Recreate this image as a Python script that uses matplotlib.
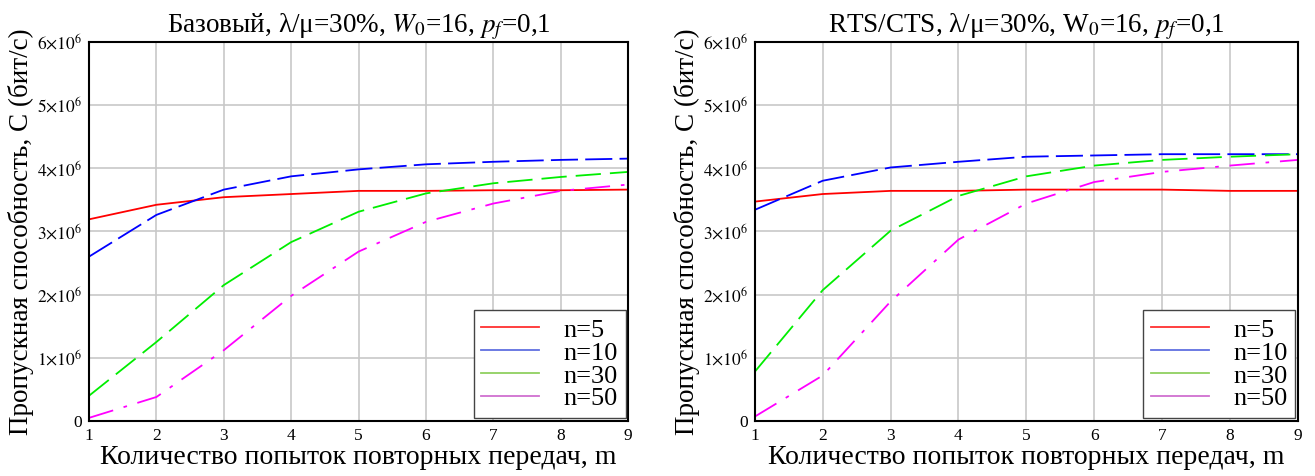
import numpy as np
import matplotlib.pyplot as plt
from matplotlib.lines import Line2D
from matplotlib.ticker import FuncFormatter

plt.rcParams['font.family'] = ['Liberation Serif', 'DejaVu Serif']
plt.rcParams['mathtext.fontset'] = 'stix'

m = [1, 2, 3, 4, 5, 6, 7, 8, 9]

# Базовый (значения в 1e6 бит/с)
base_n5 = [3.19, 3.42, 3.54, 3.59, 3.64, 3.64, 3.65, 3.65, 3.66]
base_n10 = [2.60, 3.26, 3.66, 3.87, 3.98, 4.06, 4.10, 4.13, 4.15]
base_n30 = [0.40, 1.25, 2.15, 2.83, 3.31, 3.60, 3.76, 3.86, 3.94]
base_n50 = [0.05, 0.38, 1.12, 1.98, 2.68, 3.15, 3.44, 3.64, 3.74]

# RTS/CTS
rts_n5 = [3.47, 3.59, 3.64, 3.64, 3.66, 3.66, 3.66, 3.64, 3.64]
rts_n10 = [3.34, 3.80, 4.01, 4.10, 4.18, 4.20, 4.22, 4.22, 4.22]
rts_n30 = [0.78, 2.07, 3.01, 3.56, 3.87, 4.04, 4.13, 4.18, 4.22]
rts_n50 = [0.07, 0.72, 1.89, 2.87, 3.44, 3.78, 3.94, 4.04, 4.13]

labels = ['n=5', 'n=10', 'n=30', 'n=50']
colors = ['#ff0000', '#0000ff', '#00ee00', '#ff00ff']
styles = ['-', (0, (15, 4)), (0, (14, 5)), (0, (14, 6, 2, 6))]
legend_colors = ['#ff3030', '#6070e0', '#90d060', '#d070d0']

titles = [r'Базовый, λ/μ=30%, $\mathit{W}_0$=16, $\mathit{p}_f$=0,1',
          r'RTS/CTS, λ/μ=30%, W$_0$=16, $\mathit{p}_f$=0,1']
data = [[base_n5, base_n10, base_n30, base_n50],
        [rts_n5, rts_n10, rts_n30, rts_n50]]


def ytick(v, pos):
    if v == 0:
        return '0'
    return r'$%d{\times}10^{6}$' % round(v / 1e6)


fig = plt.figure(figsize=(13.15, 4.76), dpi=100)
boxes = [[0.0677, 0.1155, 0.410, 0.797], [0.574, 0.1155, 0.413, 0.797]]

for box, title, series in zip(boxes, titles, data):
    ax = fig.add_axes(box)
    for ys, c, ls in zip(series, colors, styles):
        ax.plot(m, np.array(ys) * 1e6, color=c, linestyle=ls, linewidth=1.3)
    ax.set_xlim(1, 9)
    ax.set_ylim(0, 6e6)
    ax.set_xticks(m)
    ax.set_yticks(np.arange(0, 7e6, 1e6))
    ax.yaxis.set_major_formatter(FuncFormatter(ytick))
    ax.grid(True, color='#c8c8c8', linewidth=1.2)
    ax.set_axisbelow(True)
    ax.tick_params(length=0, labelsize=12.5, pad=5)
    for sp in ax.spines.values():
        sp.set_linewidth(1.5)
    ax.set_title(title, fontsize=19.5, pad=5)
    ax.set_xlabel('Количество попыток повторных передач, m', fontsize=20, labelpad=1)
    ax.set_ylabel('Пропускная способность, C (бит/с)', fontsize=19.5, labelpad=2)
    handles = [Line2D([0], [0], color=c, linewidth=1.3) for c in legend_colors]
    leg = ax.legend(handles, labels, loc='lower right', fontsize=19,
                    handlelength=2.2, handletextpad=0.9, labelspacing=-0.02,
                    borderpad=0.3, fancybox=False, framealpha=1,
                    edgecolor='#444444', borderaxespad=0.1)
    leg.get_frame().set_linewidth(1.0)

fig.savefig('out.png', dpi=100)
